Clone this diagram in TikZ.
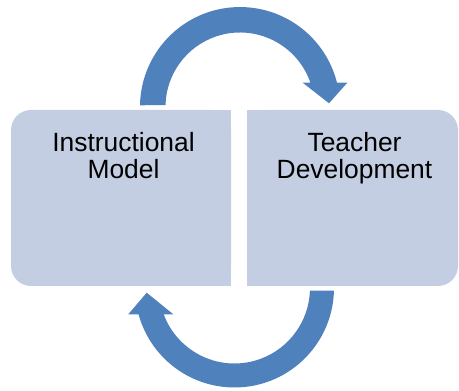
\documentclass[tikz,border=0pt]{standalone}
\usepackage{fontspec}
\setmainfont{Liberation Sans}
\definecolor{boxfill}{RGB}{196,206,226}
\definecolor{arrowblue}{RGB}{79,129,189}
\begin{document}
\begin{tikzpicture}[x=1pt,y=1pt,
  box/.style={rectangle, fill=boxfill, draw=none, inner sep=0pt, outer sep=0pt,
    rounded corners=20pt, minimum height=176pt},
  lbl/.style={align=center, inner sep=0pt, text=black,
    font=\fontsize{26.4}{26.6}\selectfont},
  cyc/.style={fill=arrowblue, draw=none}]
\useasboundingbox (0,0) rectangle (459,391);
% boxes
\node[box, minimum width=220pt] (im) at (121,193) {};
\fill[boxfill] (im.north) rectangle (im.south east);
\node[box, minimum width=211pt] (td) at (352.5,193) {};
\fill[boxfill] (td.north west) rectangle (td.south);
% labels (base anchor = baseline of last line)
\node[lbl, anchor=base] (imtext) at (123.5,212.7) {Instructional\\Model};
\node[lbl, anchor=base] (tdtext) at (354.5,212.7) {Teacher\\Development};
% top cycle arrow (from left box to right box)
\fill[cyc] (140.0,285.7) arc[start angle=179, end angle=14.06, radius=100]
  -- (347.3,308.3) -- (329,287.7) -- (302.7,308.3) -- (310.4,308.3)
  arc[start angle=19.04, end angle=178.5, radius=74.5] -- cycle;
% bottom cycle arrow (from right box to left box)
\fill[cyc] (333.96,100.31) arc[start angle=-1.55, end angle=-164.67, radius=99.5]
  -- (128.3,76.7) -- (146.7,98.3) -- (173.3,76.7) -- (163.7,76.7)
  arc[start angle=-159.61, end angle=-2.05, radius=75.5] -- cycle;
\end{tikzpicture}
\end{document}
